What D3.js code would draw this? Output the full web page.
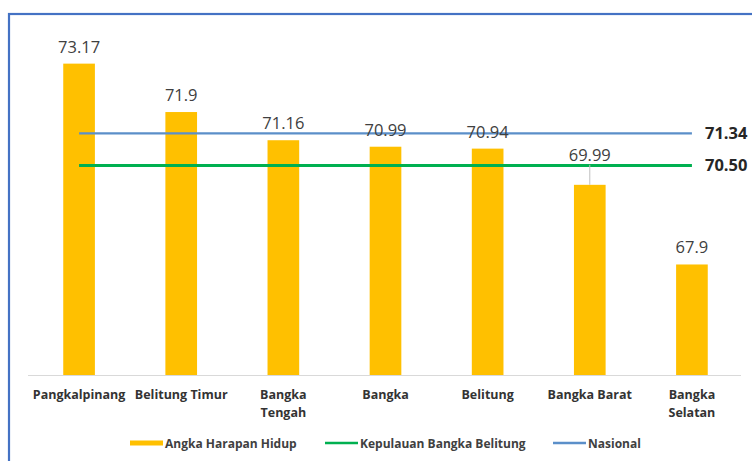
<!DOCTYPE html>
<html>
<head>
<meta charset="utf-8">
<script src="https://cdn.jsdelivr.net/npm/d3@7"></script>
<style>
  html, body { margin: 0; padding: 0; background: #fff; }
  svg { display: block; }
</style>
</head>
<body>
<svg id="chart" width="752" height="461"></svg>
<script>
const categories = ["Pangkalpinang", "Belitung Timur", "Bangka Tengah", "Bangka", "Belitung", "Bangka Barat", "Bangka Selatan"];
const categoryLines = [["Pangkalpinang"], ["Belitung Timur"], ["Bangka", "Tengah"], ["Bangka"], ["Belitung"], ["Bangka Barat"], ["Bangka", "Selatan"]];
const ahhValues = [73.17, 71.9, 71.16, 70.99, 70.94, 69.99, 67.9];
const ahhLabels = ["73.17", "71.9", "71.16", "70.99", "70.94", "69.99", "67.9"];
const provinceValue = 70.50;
const provinceLabel = "70.50";
const nationalValue = 71.34;
const nationalLabel = "71.34";
const seriesNames = ["Angka Harapan Hidup", "Kepulauan Bangka Belitung", "Nasional"];
const yDomain = [65, 74];

const colors = { bar: "#FFC000", province: "#00B050", national: "#5B8FC9" };

const svg = d3.select("#chart");

// frame
svg.append("rect").attr("x", 9).attr("y", 14).attr("width", 800).attr("height", 600)
  .attr("fill", "#fff").attr("stroke", "#4472C4").attr("stroke-width", 2.2);

const x = d3.scaleBand().domain(categories).range([28, 743]).paddingInner(0.69).paddingOuter(0.345);
const y = d3.scaleLinear().domain(yDomain).range([375, 32]);

// baseline
svg.append("line").attr("x1", 28).attr("x2", 741).attr("y1", y(yDomain[0]) + 0.5).attr("y2", y(yDomain[0]) + 0.5)
  .attr("stroke", "#D9D9D9").attr("stroke-width", 1);

// bars
svg.append("g").selectAll("rect").data(ahhValues).join("rect")
  .attr("x", (d, i) => x(categories[i]))
  .attr("width", x.bandwidth())
  .attr("y", d => y(d))
  .attr("height", d => y(yDomain[0]) - y(d))
  .attr("fill", colors.bar);

// reference lines
const cx = c => x(c) + x.bandwidth() / 2;
const lx1 = cx(categories[0]), lx2 = cx(categories[categories.length - 1]);
svg.append("line").attr("x1", lx1).attr("x2", lx2).attr("y1", y(nationalValue)).attr("y2", y(nationalValue))
  .attr("stroke", colors.national).attr("stroke-width", 2.2);
svg.append("line").attr("x1", lx1).attr("x2", lx2).attr("y1", y(provinceValue)).attr("y2", y(provinceValue))
  .attr("stroke", colors.province).attr("stroke-width", 3);

// right labels
[[nationalValue, nationalLabel], [provinceValue, provinceLabel]].forEach(([v, l]) => {
  svg.append("text").attr("x", 705).attr("y", y(v) + 6).text(l)
    .attr("font-family", "Open Sans").attr("font-weight", "bold").attr("font-size", 16.5).attr("fill", "#262626");
});

// data labels
const leaderIdx = 5, leaderShift = 13;
const lab = svg.append("g");
ahhValues.forEach((d, i) => {
  const shift = i === leaderIdx ? leaderShift : 0;
  const ty = y(d) - 11 - shift;
  if (i === leaderIdx) {
    lab.append("line").attr("x1", cx(categories[i])).attr("x2", cx(categories[i]))
      .attr("y1", ty + 4).attr("y2", y(d)).attr("stroke", "#BFBFBF").attr("stroke-width", 1);
  }
  lab.append("text").attr("x", cx(categories[i])).attr("y", ty)
    .attr("text-anchor", "middle").attr("font-family", "Open Sans").attr("font-size", 16.5)
    .attr("fill", "#404040").text(ahhLabels[i]);
});

// category labels
const cl = svg.append("g");
categories.forEach((c, i) => {
  const t = cl.append("text").attr("x", cx(c)).attr("y", 399).attr("text-anchor", "middle")
    .attr("font-family", "Open Sans").attr("font-weight", "bold").attr("font-size", 12.5).attr("fill", "#333");
  categoryLines[i].forEach((ln, j) => {
    t.append("tspan").attr("x", cx(c)).attr("dy", j === 0 ? 0 : 18).text(ln);
  });
});

// legend
const lg = svg.append("g");
const legendItems = [
  { x: 130, type: "bar", color: colors.bar },
  { x: 325, type: "line", color: colors.province },
  { x: 553, type: "line", color: colors.national }
];
legendItems.forEach((it, i) => {
  lg.append("line").attr("x1", it.x).attr("x2", it.x + 33).attr("y1", 443).attr("y2", 443)
    .attr("stroke", it.color).attr("stroke-width", it.type === "bar" ? 5 : 2.5);
  lg.append("text").attr("x", it.x + 35).attr("y", 447.5).text(seriesNames[i])
    .attr("font-family", "Open Sans").attr("font-weight", "bold").attr("font-size", 12).attr("fill", "#404040");
});
</script>
</body>
</html>
